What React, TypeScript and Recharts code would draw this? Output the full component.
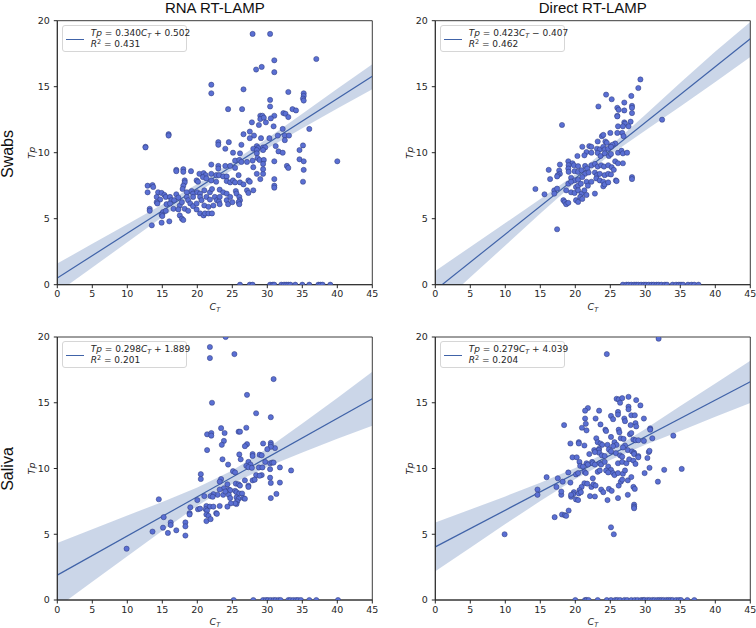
import React from 'react';
import { ComposedChart, Scatter, Line, Area, XAxis, YAxis, Legend, ReferenceArea } from 'recharts';

const ctTicks = [0, 5, 10, 15, 20, 25, 30, 35, 40, 45];
const tpTicks = [0, 5, 10, 15, 20];
const bandCt = [0, 5, 10, 15, 20, 25, 30, 35, 40, 45];
const fitCt = [0, 45];

// ---------- Swabs / RNA RT-LAMP ----------
const swabRnaPoints: [number, number][] = [
  [27.9,19.0],[30.4,19.0],[37.0,17.1],[31.0,17.0],[31.0,16.1],[28.4,16.3],[29.2,16.5],[22.0,15.15],[22.0,14.5],[26.6,14.8],
  [33.0,14.6],[35.2,14.5],[35.2,14.3],[35.1,14.1],[35.2,13.95],[30.4,14.0],[30.4,13.5],[24.4,13.3],[26.4,13.3],[33.6,13.3],
  [34.1,13.2],[32.3,13.0],[32.6,12.95],[31.0,12.8],[33.0,12.7],[29.0,12.8],[29.3,12.8],[29.0,12.55],[29.5,12.65],[30.5,12.6],
  [27.8,12.3],[29.8,12.3],[28.8,12.1],[30.9,12.0],[32.2,11.8],[36.0,11.8],[27.5,11.6],[26.6,11.4],[28.1,11.3],[31.5,11.3],
  [32.5,11.3],[33.1,11.3],[15.9,11.4],[15.9,11.3],[27.5,11.1],[29.1,11.1],[30.3,11.1],[32.5,10.95],[24.5,10.8],[23.0,10.8],
  [23.0,10.6],[26.3,10.6],[35.1,10.55],[12.6,10.45],[12.6,10.4],[28.5,10.5],[28.7,10.35],[29.4,10.4],[29.7,10.4],[31.2,10.5],
  [24.0,10.3],[28.0,10.3],[28.5,10.2],[29.4,10.2],[31.6,10.1],[32.2,10.0],[34.6,10.2],[25.1,10.0],[26.1,9.95],[28.5,9.95],
  [40.0,9.35],[34.6,9.5],[35.2,9.35],[31.0,9.35],[28.6,9.6],[28.9,9.45],[29.5,9.45],[29.4,9.15],[25.4,9.4],[26.0,9.45],
  [26.3,9.3],[27.1,9.3],[27.9,9.4],[22.0,9.1],[23.0,9.0],[23.0,8.8],[24.0,9.0],[24.7,9.0],[25.4,8.85],[32.8,9.0],
  [33.0,8.85],[35.2,8.7],[17.0,8.7],[17.0,8.6],[18.0,8.75],[18.0,8.55],[19.1,8.6],[20.3,8.4],[20.9,8.45],[21.2,8.3],
  [22.0,8.4],[22.7,8.3],[23.1,8.3],[23.7,8.2],[24.2,8.2],[25.9,8.3],[28.5,8.4],[29.4,8.4],[28.0,8.9],[29.4,8.75],
  [31.0,8.0],[31.0,7.5],[31.0,7.35],[35.1,7.8],[29.0,8.0],[27.3,7.9],[27.5,7.8],[18.2,7.9],[18.2,7.75],[19.9,7.9],
  [20.1,7.8],[20.8,8.15],[21.3,8.05],[22.0,7.9],[22.7,7.8],[24.2,7.85],[24.7,7.75],[25.1,7.9],[25.4,7.75],[26.1,7.75],
  [26.6,7.6],[18.0,7.5],[12.9,7.5],[12.9,7.0],[13.6,7.55],[13.7,7.4],[14.4,7.0],[14.9,6.95],[17.9,7.25],[18.5,7.0],
  [19.2,7.1],[19.4,6.9],[20.0,7.0],[20.4,6.9],[21.0,7.15],[21.8,7.0],[22.1,7.25],[23.2,7.2],[23.7,7.0],[24.2,6.9],
  [25.5,7.1],[25.6,6.9],[27.1,7.15],[27.3,6.95],[28.0,7.15],[14.2,6.65],[14.7,6.45],[15.3,6.8],[15.5,6.65],[16.1,6.65],
  [16.3,6.4],[16.7,6.4],[17.0,6.85],[17.3,6.6],[18.5,6.65],[18.7,6.4],[19.4,6.65],[20.4,6.65],[20.6,6.4],[21.3,6.65],
  [21.8,6.45],[22.5,6.65],[22.8,6.4],[23.2,6.65],[24.2,6.4],[24.7,6.65],[26.0,6.65],[26.1,6.4],[14.2,6.25],[14.3,6.15],
  [15.6,6.1],[16.1,6.15],[17.5,6.0],[17.8,6.25],[19.0,6.15],[19.4,5.95],[19.9,6.15],[21.0,6.0],[21.6,5.9],[22.3,6.0],
  [23.1,6.3],[23.2,6.1],[24.4,6.1],[25.0,6.25],[25.9,6.25],[26.0,6.1],[13.2,5.75],[13.2,5.6],[15.1,5.5],[15.5,5.6],
  [16.6,5.75],[17.3,5.7],[18.2,5.75],[18.7,5.6],[19.9,5.7],[20.4,5.4],[20.9,5.25],[21.1,5.4],[21.6,5.4],[22.1,5.4],
  [17.5,5.25],[17.8,5.0],[18.0,4.9],[14.9,5.3],[15.0,5.2],[13.5,4.5],[14.9,4.7],[16.0,4.8],
];
const swabRnaZeros = [26.1, 27.5, 27.9, 30.4, 30.8, 31.0, 32.0, 32.4, 32.7, 33.0, 33.3, 34.0, 35.0, 36.0, 37.3, 37.6, 37.9, 39.0];
const swabRnaFit = [0.5, 15.8];
const swabRnaBandLow = [-0.6, 1.3, 3.22, 5.12, 6.97, 8.7, 10.32, 11.85, 13.35, 14.8];
const swabRnaBandHigh = [1.6, 3.1, 4.58, 6.08, 7.63, 9.3, 11.08, 12.95, 14.85, 16.7];

// ---------- Swabs / Direct RT-LAMP ----------
const swabDirectPoints: [number, number][] = [
  [29.3,15.55],[29.0,14.9],[24.4,14.4],[25.2,14.05],[28.0,14.3],[23.3,13.5],[27.0,13.8],[28.1,13.55],[28.1,13.4],[26.0,13.4],
  [26.2,13.25],[27.0,13.2],[28.1,13.0],[26.0,12.8],[26.0,12.75],[27.0,12.3],[27.1,12.2],[27.9,12.35],[32.4,12.5],[18.1,12.1],
  [26.1,12.0],[26.8,12.0],[27.6,12.0],[25.0,11.5],[26.7,11.5],[26.9,11.25],[23.8,11.25],[24.0,11.35],[26.0,11.5],[23.2,10.85],
  [24.3,10.85],[24.5,10.75],[25.7,10.7],[25.1,10.5],[25.3,10.6],[21.0,10.45],[22.0,10.5],[22.3,10.45],[23.1,10.3],[23.5,10.25],
  [24.0,10.45],[24.2,10.25],[24.7,10.3],[25.1,10.45],[21.6,10.05],[20.3,9.75],[21.3,9.8],[22.3,10.0],[23.2,9.98],[23.6,9.75],
  [24.2,9.95],[24.8,9.75],[25.1,9.9],[26.1,10.0],[26.6,10.15],[26.8,9.95],[27.4,10.0],[26.8,9.2],[25.7,9.35],[26.1,9.2],
  [19.0,9.35],[19.6,9.2],[19.05,9.05],[17.8,9.1],[19.8,9.05],[20.4,8.98],[21.4,9.0],[21.7,8.8],[22.3,9.05],[22.8,9.15],
  [23.2,8.95],[23.7,9.05],[24.1,8.95],[24.7,9.05],[25.2,8.9],[16.2,8.7],[17.7,8.65],[17.8,8.4],[19.0,8.8],[19.05,8.55],
  [19.9,8.6],[20.4,8.55],[20.9,8.67],[21.4,8.4],[21.9,8.5],[22.8,8.5],[23.1,8.3],[23.5,8.4],[24.2,8.3],[24.7,8.4],
  [25.1,8.35],[25.5,8.7],[28.1,8.15],[28.1,8.0],[17.5,8.3],[17.4,8.2],[16.4,8.0],[19.4,8.1],[19.9,7.9],[20.4,7.95],
  [21.0,8.15],[21.6,7.8],[22.3,7.8],[23.0,8.05],[23.5,7.9],[24.0,7.8],[25.8,7.9],[25.9,7.85],[19.0,7.65],[19.4,7.8],
  [20.1,7.4],[20.4,7.5],[20.8,7.65],[21.8,7.5],[24.0,7.45],[24.2,7.6],[24.7,7.75],[17.0,7.15],[17.4,7.28],[14.3,7.25],
  [15.6,6.85],[17.0,6.9],[18.7,7.15],[19.4,7.0],[19.9,6.95],[20.4,7.15],[20.9,6.9],[21.3,7.15],[22.8,6.9],[20.1,6.4],
  [20.4,6.27],[18.3,6.4],[18.5,6.27],[18.7,6.1],[19.0,6.2],[20.7,6.65],[21.0,6.5],[21.6,6.8],[17.4,4.2],
];
const swabDirectZeros = [26.8, 27.3, 27.6, 28.0, 28.4, 28.7, 29.0, 29.4, 29.8, 30.1, 30.5, 30.9, 31.2, 31.6, 31.9, 32.3, 32.8, 33.1, 33.9, 34.4, 34.8, 35.1, 35.4, 36.1, 36.6, 37.0, 37.6];
const swabDirectFit = [-0.41, 18.63];
const swabDirectBandLow = [-1.86, 0.56, 2.97, 5.39, 7.75, 9.85, 11.68, 13.5, 15.36, 17.25];
const swabDirectBandHigh = [1.04, 2.86, 4.67, 6.49, 8.35, 10.49, 12.88, 15.3, 17.66, 19.9];

// ---------- Saliva / RNA RT-LAMP ----------
const salivaRnaPoints: [number, number][] = [
  [24.05,20.0],[21.8,19.24],[25.3,18.7],[21.8,18.4],[30.9,16.8],[27.1,15.6],[22.1,15.0],[28.4,14.2],[30.5,13.9],[23.4,13.07],
  [27.0,13.1],[21.4,12.6],[22.0,12.7],[22.0,12.5],[23.9,12.7],[25.9,12.8],[26.1,12.8],[23.8,12.1],[23.5,11.8],[27.1,11.85],
  [29.4,11.9],[30.5,11.95],[30.5,11.8],[31.1,11.55],[26.8,11.7],[21.4,11.4],[30.5,11.65],[30.0,11.47],[26.0,11.07],[27.9,11.1],
  [27.9,10.95],[28.9,11.05],[29.2,11.0],[23.6,10.7],[26.2,10.7],[27.3,10.5],[27.6,10.3],[27.0,10.2],[27.3,10.1],[27.8,10.05],
  [24.4,10.3],[30.4,10.4],[30.7,10.45],[30.9,10.45],[28.8,10.08],[29.3,10.08],[31.8,10.08],[30.4,9.95],[25.1,9.8],[25.4,9.7],
  [29.7,10.5],[20.5,9.57],[20.5,9.2],[23.4,9.2],[23.2,9.0],[28.4,9.5],[29.2,9.5],[28.9,9.45],[30.4,9.3],[30.5,8.9],
  [33.4,9.85],[31.8,8.93],[27.9,9.1],[28.2,9.15],[26.8,9.1],[25.5,8.85],[25.9,8.8],[24.3,8.8],[26.1,8.7],[27.3,8.7],
  [27.3,8.6],[23.8,8.5],[24.5,8.4],[24.7,8.35],[23.2,8.4],[22.9,8.0],[22.3,8.05],[23.7,8.0],[24.5,8.0],[25.4,8.3],
  [25.6,8.2],[26.0,8.1],[26.4,8.1],[21.9,7.9],[22.2,7.85],[21.0,7.9],[25.6,7.8],[25.9,7.7],[26.6,7.75],[26.8,7.7],
  [30.5,7.75],[31.3,8.07],[20.0,7.6],[24.0,8.25],[24.7,7.75],[25.7,7.5],[25.6,7.3],[21.3,7.15],[21.8,7.1],[22.3,7.1],
  [23.2,7.15],[25.4,7.35],[24.8,7.35],[24.3,7.1],[14.5,7.66],[19.0,7.05],[20.1,6.9],[20.4,6.95],[21.2,6.9],[21.4,6.8],
  [21.3,6.5],[21.6,6.4],[18.9,6.6],[18.9,6.5],[22.7,6.6],[22.8,6.55],[21.3,6.0],[21.9,6.15],[15.2,6.3],[16.2,5.9],
  [16.2,5.7],[18.3,5.9],[18.3,5.6],[13.6,5.2],[15.1,5.5],[15.8,5.1],[17.0,5.3],[18.3,4.9],[9.9,3.9],
];
const salivaRnaZeros = [25.2, 28.0, 29.4, 29.8, 30.1, 30.5, 30.9, 31.2, 31.6, 31.9, 33.0, 33.3, 33.7, 34.1, 34.4, 34.8, 36.0, 37.0, 40.1];
const salivaRnaFit = [1.89, 15.3];
const salivaRnaBandLow = [-0.56, 1.38, 3.32, 5.26, 7.15, 8.84, 10.13, 11.22, 12.26, 13.25];
const salivaRnaBandHigh = [4.34, 5.38, 6.42, 7.46, 8.55, 9.84, 11.53, 13.42, 15.36, 17.35];

// ---------- Saliva / Direct RT-LAMP ----------
const salivaDirectPoints: [number, number][] = [
  [31.9,19.87],[24.5,18.7],[28.7,15.2],[25.9,15.3],[26.2,15.25],[26.7,15.35],[27.6,15.45],[29.3,14.8],[26.4,15.0],[27.6,14.7],
  [27.6,14.5],[21.8,14.6],[21.4,14.4],[23.4,14.4],[21.4,13.8],[21.5,13.4],[22.9,13.8],[27.0,13.8],[27.1,13.6],[23.6,13.35],
  [18.4,13.3],[25.1,14.0],[25.4,13.75],[26.1,14.3],[26.1,14.1],[28.0,14.05],[28.5,14.05],[29.8,13.8],[30.7,13.05],[30.7,12.95],
  [28.6,13.45],[28.7,13.2],[27.9,13.3],[20.95,13.1],[24.3,12.95],[24.4,12.85],[26.2,12.95],[26.3,12.75],[27.8,12.6],[28.0,12.7],
  [21.6,12.9],[34.0,12.5],[23.0,12.3],[25.1,12.4],[26.5,12.3],[26.9,12.25],[28.3,12.2],[28.6,12.15],[31.0,12.3],[29.0,12.15],
  [29.8,12.1],[20.5,12.0],[20.5,11.9],[19.3,11.9],[23.2,12.0],[23.6,11.9],[23.85,11.8],[24.6,11.8],[25.6,12.0],[25.9,11.8],
  [27.1,11.75],[26.8,11.6],[21.3,11.75],[25.4,11.7],[23.4,11.5],[23.35,11.4],[23.4,11.2],[22.7,11.4],[22.8,11.25],[24.8,11.45],
  [25.1,11.3],[25.8,11.17],[27.5,11.4],[28.1,11.3],[28.4,11.2],[30.5,11.25],[30.6,11.35],[22.0,11.1],[23.8,11.0],[24.2,10.95],
  [26.4,11.0],[26.7,10.9],[28.4,11.1],[29.0,10.95],[29.0,10.85],[30.3,10.8],[19.6,10.85],[20.2,10.85],[20.6,10.5],[21.6,10.4],
  [21.8,10.3],[20.7,10.2],[21.1,10.15],[22.4,10.5],[22.5,10.4],[22.8,10.3],[23.5,10.4],[23.7,10.3],[24.2,10.5],[24.7,10.15],
  [25.1,9.9],[25.4,9.65],[26.1,10.4],[26.7,10.5],[27.3,10.4],[27.7,10.7],[28.3,10.6],[28.6,10.35],[20.1,9.55],[20.4,9.65],
  [19.0,9.7],[21.3,9.75],[21.5,9.65],[22.5,9.25],[23.2,9.75],[23.5,9.85],[24.4,9.85],[24.7,9.7],[25.6,9.5],[26.1,9.65],
  [26.8,9.6],[27.1,9.85],[29.9,9.65],[30.6,10.05],[32.7,9.9],[35.2,9.97],[15.9,9.34],[17.5,9.26],[18.2,9.0],[19.3,8.93],
  [21.3,8.88],[21.7,8.85],[20.9,8.6],[20.6,8.35],[22.3,8.6],[22.6,8.8],[22.9,8.7],[23.7,8.4],[24.0,8.2],[24.8,8.45],
  [25.2,8.3],[26.2,8.7],[26.5,9.0],[26.7,9.15],[31.8,9.0],[28.3,8.6],[28.5,8.45],[27.5,9.1],[28.0,9.35],[19.8,8.2],
  [19.7,8.05],[20.5,8.1],[20.8,8.2],[18.0,8.0],[18.0,8.25],[22.1,7.9],[22.8,7.87],[19.4,7.85],[19.4,8.0],[20.1,7.65],
  [20.4,7.6],[14.6,8.4],[14.6,8.0],[17.3,8.6],[26.1,7.75],[24.6,7.6],[27.5,8.0],[28.4,7.25],[28.4,7.1],[28.4,6.98],
  [19.05,6.8],[18.1,6.5],[18.5,6.45],[18.7,6.4],[17.05,6.3],[25.1,5.53],[25.5,5.0],[9.9,5.0],
];
const salivaDirectZeros = [20.0, 21.4, 21.6, 21.9, 23.2, 24.5, 25.1, 25.7, 26.0, 26.4, 27.0, 27.4, 28.0, 28.5, 28.9, 29.4, 29.7, 29.9, 30.3, 30.6, 31.0, 31.3, 31.7, 32.0, 32.3, 32.6, 33.0, 33.3, 33.6, 33.9, 34.4, 34.8, 35.1, 36.0, 37.0];
const salivaDirectFit = [4.04, 16.59];
const salivaDirectBandLow = [2.19, 3.98, 5.78, 7.52, 9.2, 10.65, 11.81, 12.85, 13.93, 14.99];
const salivaDirectBandHigh = [5.89, 6.88, 7.88, 8.92, 10.04, 11.37, 13.01, 14.75, 16.47, 18.19];

const colTitles = ['RNA RT-LAMP', 'Direct RT-LAMP'];
const rowTitles = ['Swabs', 'Saliva'];

const TICK_FONT = 'DejaVu Sans, sans-serif';
const TITLE_FONT = 'Liberation Sans, Arial, sans-serif';
const INK = '#262626';
const POINT_FILL = '#5a6fd3';
const POINT_EDGE = '#2c3878';
const LINE_COLOR = '#4063a8';
const BAND_COLOR = '#4c72b0';

const Dot = (p: any) => {
  if (p.cx == null || p.cy == null) return null;
  return <circle cx={p.cx} cy={p.cy} r={2.6} fill={POINT_FILL} stroke={POINT_EDGE} strokeWidth={0.5} />;
};

const Sub = ({ children }: { children: React.ReactNode }) => (
  <span style={{ fontSize: 6.5, fontStyle: 'italic', position: 'relative', top: 2 }}>{children}</span>
);

type PanelProps = {
  left: number; top: number; height: number; marginTop: number; xAxisHeight: number;
  points: [number, number][]; zeros: number[]; fit: number[]; bandLow: number[]; bandHigh: number[];
  slope: string; sign: string; intercept: string; r2: string;
};

function Panel(props: PanelProps) {
  const { left, top, height, marginTop, xAxisHeight, points, zeros, fit, bandLow, bandHigh } = props;
  const scatterData = [...points.map(([x, y]) => ({ x, y })), ...zeros.map((x) => ({ x, y: 0 }))];
  const bandData = bandCt.map((x, i) => ({ x, band: [bandLow[i], bandHigh[i]] }));
  const fitData = fitCt.map((x, i) => ({ x, fit: fit[i] }));

  const legend = () => (
    <div style={{
      width: 125, height: 27, boxSizing: 'border-box', border: '1px solid #d6d6d6', borderRadius: 3,
      background: 'rgba(255,255,255,0.85)', position: 'relative', fontFamily: TICK_FONT, fontSize: 9, color: INK,
    }}>
      <div style={{ position: 'absolute', left: 3.3, top: 12.5, width: 18, borderTop: `1.3px solid ${LINE_COLOR}` }} />
      <div style={{ position: 'absolute', left: 28, top: 2, lineHeight: '10px', whiteSpace: 'nowrap' }}>
        <div><i>Tp</i> = {props.slope}<i>C</i><Sub>T</Sub> {props.sign} {props.intercept}</div>
        <div><i>R</i><span style={{ fontSize: 6.5, position: 'relative', top: -3 }}>2</span> = {props.r2}</div>
      </div>
    </div>
  );

  const xLabel = (lp: any) => {
    const vb = lp.viewBox || {};
    const cx = (vb.x ?? 57.3) + (vb.width ?? 315) / 2;
    const y = (vb.y ?? (height - xAxisHeight)) + 25;
    return (
      <text x={cx} y={y} textAnchor="middle" fontFamily={TICK_FONT} fontSize={9.5} fill={INK}>
        <tspan fontStyle="italic">C</tspan>
        <tspan fontStyle="italic" fontSize={6.5} dy={1.8}>T</tspan>
      </text>
    );
  };
  const yLabel = (lp: any) => {
    const vb = lp.viewBox || {};
    const cx = (vb.x ?? 17.3) + (vb.width ?? 40) - 25.5;
    const cy = (vb.y ?? marginTop) + (vb.height ?? 264) / 2;
    return (
      <text x={cx} y={cy} textAnchor="middle" dominantBaseline="central" transform={`rotate(-90, ${cx}, ${cy})`}
        fontFamily={TICK_FONT} fontSize={9.5} fontStyle="italic" fill={INK}>Tp</text>
    );
  };

  return (
    <div style={{ position: 'absolute', left, top, width: 378, height }}>
      <ComposedChart width={378} height={height} margin={{ top: marginTop, right: 5.7, left: 17.3, bottom: 0 }}>
        <XAxis type="number" dataKey="x" domain={[0, 45]} ticks={ctTicks} allowDataOverflow height={xAxisHeight}
          tickSize={3.5} tickMargin={2.5} stroke={INK} tickLine={{ stroke: INK }} axisLine={{ stroke: INK, strokeWidth: 0.9 }}
          tick={{ fontSize: 9.5, fill: INK, fontFamily: TICK_FONT }} label={{ content: xLabel }} />
        <YAxis type="number" domain={[0, 20]} ticks={tpTicks} allowDataOverflow width={40}
          tickSize={3.5} tickMargin={4} stroke={INK} tickLine={{ stroke: INK }} axisLine={{ stroke: INK, strokeWidth: 0.9 }}
          tick={{ fontSize: 9.5, fill: INK, fontFamily: TICK_FONT }} label={{ content: yLabel }} />
        <Scatter data={scatterData} dataKey="y" shape={Dot} isAnimationActive={false} />
        <Area data={bandData} dataKey="band" type="linear" fill={BAND_COLOR} fillOpacity={0.29} stroke="none"
          isAnimationActive={false} activeDot={false} dot={false} />
        <Line data={fitData} dataKey="fit" type="linear" stroke={LINE_COLOR} strokeWidth={1.2} dot={false}
          activeDot={false} isAnimationActive={false} />
        <ReferenceArea x1={0} x2={45} y1={0} y2={20} fill="none" fillOpacity={0} stroke={INK} strokeWidth={0.9} ifOverflow="visible" />
        <Legend layout="horizontal" verticalAlign="middle" align="center" content={legend}
          wrapperStyle={{ left: 61.7, top: marginTop + 4.3, width: 125, height: 27 }} />
      </ComposedChart>
    </div>
  );
}

export default function App() {
  return (
    <div style={{ position: 'absolute', left: 0, top: 0, width: 756, height: 628, background: '#fff', overflow: 'hidden' }}>
      <Panel left={0} top={0} height={314} marginTop={20.7} xAxisHeight={29.3}
        points={swabRnaPoints} zeros={swabRnaZeros} fit={swabRnaFit} bandLow={swabRnaBandLow} bandHigh={swabRnaBandHigh}
        slope="0.340" sign="+" intercept="0.502" r2="0.431" />
      <Panel left={378} top={0} height={314} marginTop={20.7} xAxisHeight={29.3}
        points={swabDirectPoints} zeros={swabDirectZeros} fit={swabDirectFit} bandLow={swabDirectBandLow} bandHigh={swabDirectBandHigh}
        slope="0.423" sign="−" intercept="0.407" r2="0.462" />
      <Panel left={0} top={316} height={312} marginTop={21} xAxisHeight={28}
        points={salivaRnaPoints} zeros={salivaRnaZeros} fit={salivaRnaFit} bandLow={salivaRnaBandLow} bandHigh={salivaRnaBandHigh}
        slope="0.298" sign="+" intercept="1.889" r2="0.201" />
      <Panel left={378} top={316} height={312} marginTop={21} xAxisHeight={28}
        points={salivaDirectPoints} zeros={salivaDirectZeros} fit={salivaDirectFit} bandLow={salivaDirectBandLow} bandHigh={salivaDirectBandHigh}
        slope="0.279" sign="+" intercept="4.039" r2="0.204" />

      {colTitles.map((t, i) => (
        <div key={t} style={{ position: 'absolute', left: (i === 0 ? 214.8 : 592.8) - 100, top: 0, width: 200, textAlign: 'center',
          fontFamily: TITLE_FONT, fontSize: 15, lineHeight: '15px', color: '#111' }}>{t}</div>
      ))}
      {rowTitles.map((t, i) => (
        <div key={t} style={{ position: 'absolute', left: 8.2 - 50, top: (i === 0 ? 153.5 : 469) - 8, width: 100, height: 16,
          textAlign: 'center', fontFamily: TITLE_FONT, fontSize: 16, lineHeight: '16px', color: '#111', transform: 'rotate(-90deg)' }}>{t}</div>
      ))}
    </div>
  );
}
